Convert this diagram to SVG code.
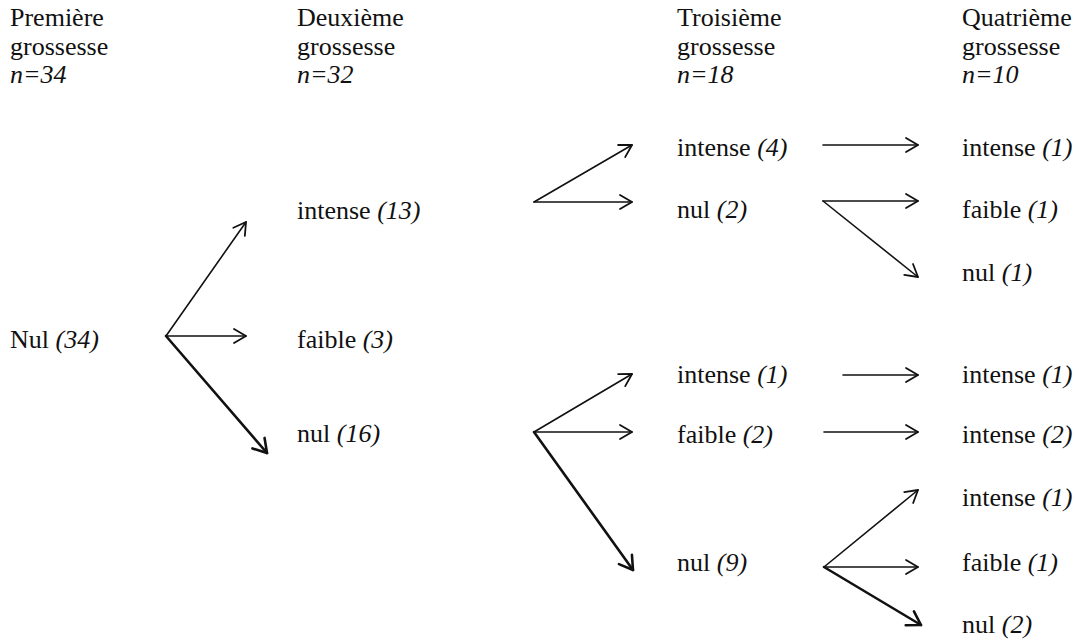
<svg xmlns="http://www.w3.org/2000/svg" width="1079" height="641" viewBox="0 0 1079 641">
  <style>
    text { font-family: "Liberation Serif", "Times New Roman", Tinos, "DejaVu Serif", "Noto Serif", Times, serif; font-size: 26px; fill: #111; }
    .it { font-style: italic; }
    .arr { fill: none; stroke: #111; stroke-width: 1.6; stroke-linecap: round; marker-end: url(#head); }
    .bold { stroke-width: 2.6; marker-end: url(#headBold); }
  </style>
  <defs>
    <marker id="head" markerUnits="userSpaceOnUse" markerWidth="30" markerHeight="30" refX="0" refY="0" viewBox="-15 -15 30 30" orient="auto" overflow="visible">
      <path d="M-12,-7 L0,0 L-12,7" fill="none" stroke="#111" stroke-width="1.8" stroke-linecap="round" stroke-linejoin="round"/>
    </marker>
    <marker id="headBold" markerUnits="userSpaceOnUse" markerWidth="30" markerHeight="30" refX="0" refY="0" viewBox="-15 -15 30 30" orient="auto" overflow="visible">
      <path d="M-13,-8 L0,0 L-13,8" fill="none" stroke="#111" stroke-width="2.6" stroke-linecap="round" stroke-linejoin="round"/>
    </marker>
  </defs>

  <!-- column headings -->
  <g id="head1">
    <text x="10" y="26">Première</text>
    <text x="10" y="55">grossesse</text>
    <text x="10" y="83" class="it">n=34</text>
  </g>
  <g id="head2">
    <text x="297" y="26">Deuxième</text>
    <text x="297" y="55">grossesse</text>
    <text x="297" y="83" class="it">n=32</text>
  </g>
  <g id="head3">
    <text x="677" y="26">Troisième</text>
    <text x="677" y="55">grossesse</text>
    <text x="677" y="83" class="it">n=18</text>
  </g>
  <g id="head4">
    <text x="962" y="26">Quatrième</text>
    <text x="962" y="55">grossesse</text>
    <text x="962" y="83" class="it">n=10</text>
  </g>

  <!-- first pregnancy -->
  <g id="p1-nul"><text x="10" y="348">Nul <tspan class="it">(34)</tspan></text></g>

  <!-- second pregnancy -->
  <g id="p2-intense"><text x="297" y="219">intense <tspan class="it">(13)</tspan></text></g>
  <g id="p2-faible"><text x="297" y="348">faible <tspan class="it">(3)</tspan></text></g>
  <g id="p2-nul"><text x="297" y="442">nul <tspan class="it">(16)</tspan></text></g>

  <!-- third pregnancy -->
  <g id="p3-intense-a"><text x="677" y="156">intense <tspan class="it">(4)</tspan></text></g>
  <g id="p3-nul-a"><text x="677" y="218">nul <tspan class="it">(2)</tspan></text></g>
  <g id="p3-intense-b"><text x="677" y="383">intense <tspan class="it">(1)</tspan></text></g>
  <g id="p3-faible-b"><text x="677" y="443">faible <tspan class="it">(2)</tspan></text></g>
  <g id="p3-nul-b"><text x="677" y="571">nul <tspan class="it">(9)</tspan></text></g>

  <!-- fourth pregnancy -->
  <g id="p4-1"><text x="962" y="156">intense <tspan class="it">(1)</tspan></text></g>
  <g id="p4-2"><text x="962" y="218">faible <tspan class="it">(1)</tspan></text></g>
  <g id="p4-3"><text x="962" y="281">nul <tspan class="it">(1)</tspan></text></g>
  <g id="p4-4"><text x="962" y="383">intense <tspan class="it">(1)</tspan></text></g>
  <g id="p4-5"><text x="962" y="443">intense <tspan class="it">(2)</tspan></text></g>
  <g id="p4-6"><text x="962" y="506">intense <tspan class="it">(1)</tspan></text></g>
  <g id="p4-7"><text x="962" y="571">faible <tspan class="it">(1)</tspan></text></g>
  <g id="p4-8"><text x="962" y="633">nul <tspan class="it">(2)</tspan></text></g>

  <!-- connectors -->
  <g id="connectors">
    <!-- from Nul (34) -->
    <line class="arr" x1="166" y1="336" x2="246" y2="222"/>
    <line class="arr" x1="166" y1="336" x2="246" y2="336"/>
    <line class="arr bold" x1="166" y1="336" x2="267" y2="453"/>
    <!-- from intense (13) -->
    <line class="arr" x1="534" y1="202" x2="632" y2="145"/>
    <line class="arr" x1="534" y1="202" x2="632" y2="202"/>
    <!-- from nul (16) -->
    <line class="arr" x1="534" y1="432" x2="632" y2="374"/>
    <line class="arr" x1="534" y1="432" x2="632" y2="432"/>
    <line class="arr bold" x1="534" y1="432" x2="633" y2="570"/>
    <!-- third to fourth -->
    <line class="arr" x1="823" y1="145" x2="918" y2="145"/>
    <line class="arr" x1="823" y1="201" x2="918" y2="201"/>
    <line class="arr" x1="823" y1="201" x2="918" y2="277"/>
    <line class="arr" x1="843" y1="375" x2="918" y2="375"/>
    <line class="arr" x1="824" y1="432" x2="918" y2="432"/>
    <line class="arr" x1="824" y1="567" x2="918" y2="490"/>
    <line class="arr" x1="824" y1="567" x2="918" y2="567"/>
    <line class="arr bold" x1="824" y1="567" x2="921" y2="625"/>
  </g>
</svg>
